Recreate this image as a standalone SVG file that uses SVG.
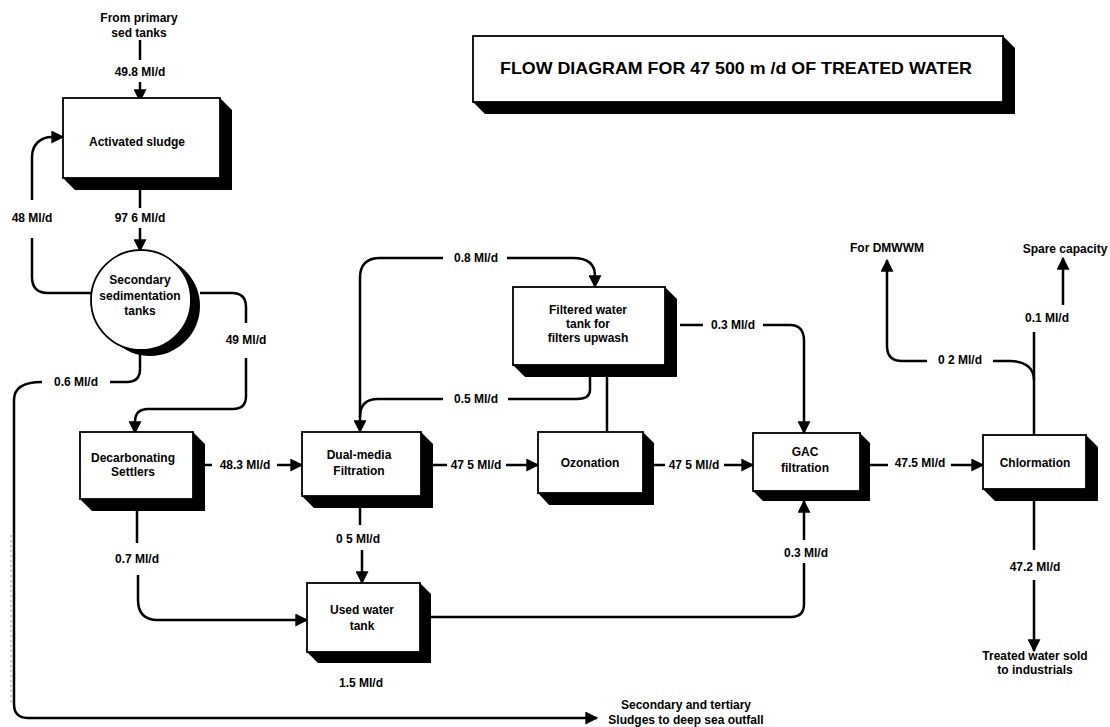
<svg xmlns="http://www.w3.org/2000/svg" width="1110" height="727" viewBox="0 0 1110 727">
<defs>
<style>
text{font-family:"Liberation Sans",Arial,sans-serif;font-weight:bold;font-size:12px;fill:#000;text-anchor:middle}
.title{font-size:17px}
.c{fill:none;stroke:#000;stroke-width:2.5}
.box{fill:#fff;stroke:#000;stroke-width:1.8}
.sh{fill:#000}
</style>
<marker id="ah" viewBox="0 0 10 10" refX="9" refY="5" markerWidth="15" markerHeight="13" markerUnits="userSpaceOnUse" orient="auto"><path d="M0,0 L10,5 L0,10 z"/></marker>
</defs>
<rect width="1110" height="727" fill="#fff"/>

<g id="title">
<polygon class="sh" points="1003,36 1015,48 1015,114 485,114 473,102 1003,102"/>
<rect class="box" x="473" y="36" width="530" height="66"/>
<text class="title" x="736" y="74" textLength="472" lengthAdjust="spacingAndGlyphs">FLOW DIAGRAM FOR 47 500 m /d OF TREATED WATER</text>
</g>

<g id="connectors">
<path class="c" d="M140,40 V60"/>
<path class="c" d="M140,82 V101" marker-end="url(#ah)"/>
<path class="c" d="M140,190 V208"/>
<path class="c" d="M140,228 V251" marker-end="url(#ah)"/>
<path class="c" d="M32,200 V157 C32,145 40,137 52,137 H63" marker-end="url(#ah)"/>
<path class="c" d="M32,238 V277 Q32,293 48,293 H91"/>
<path class="c" d="M200,293 H232 Q246,293 246,307 V323"/>
<path class="c" d="M246,358 V396 Q246,409 233,409 H148 Q135,409 135,422 V433" marker-end="url(#ah)"/>
<path class="c" d="M140,351 V369 Q140,382 127,382 H110"/>
<path class="c" d="M42,382 Q14,382 14,400 V704 Q14,718 28,718 H597" marker-end="url(#ah)"/>
<path class="c" d="M204,465 H212"/>
<path class="c" d="M277,465 H302" marker-end="url(#ah)"/>
<path class="c" d="M433,465 H447"/>
<path class="c" d="M506,465 H538" marker-end="url(#ah)"/>
<path class="c" d="M654,465 H665"/>
<path class="c" d="M724,465 H753" marker-end="url(#ah)"/>
<path class="c" d="M870,465 H888"/>
<path class="c" d="M951,465 H983" marker-end="url(#ah)"/>
<path class="c" d="M137,511 V543"/>
<path class="c" d="M138,575 V600 Q138,620 158,620 H307" marker-end="url(#ah)"/>
<path class="c" d="M360,508 V525"/>
<path class="c" d="M362,550 V583" marker-end="url(#ah)"/>
<path class="c" d="M431,617 H791 Q804,617 804,604 V563"/>
<path class="c" d="M804,540 V501" marker-end="url(#ah)"/>
<path class="c" d="M443,258 H380 Q360,258 360,278 V432" marker-end="url(#ah)"/>
<path class="c" d="M507,258 H573 Q595,258 595,276 V287" marker-end="url(#ah)"/>
<path class="c" d="M590,377 V390 Q590,399 577,399 H508"/>
<path class="c" d="M443,399 H378 Q360,399 360,417"/>
<path class="c" d="M607,377 V432"/>
<path class="c" d="M680,325 H703"/>
<path class="c" d="M763,325 H790 Q804,325 804,341 V433" marker-end="url(#ah)"/>
<path class="c" d="M1034,435 V332"/>
<path class="c" d="M993,361 H1010 C1025,361 1034,368 1034,380"/>
<path class="c" d="M927,361 H902 Q887,361 887,346 V260" marker-end="url(#ah)"/>
<path class="c" d="M1063,305 V258" marker-end="url(#ah)"/>
<path class="c" d="M1034,500 V550"/>
<path class="c" d="M1034,580 V651" marker-end="url(#ah)"/>
<path d="M11,535 V705" fill="none" stroke="#999" stroke-width="1" stroke-dasharray="2,3"/>
</g>

<g id="activated-sludge">
<polygon class="sh" points="220,98 232,110 232,190 75,190 63,178 220,178"/>
<rect class="box" x="63" y="98" width="157" height="80"/>
<text x="137" y="146">Activated sludge</text>
</g>

<g id="secondary-sedimentation">
<circle cx="150" cy="306" r="50" class="sh"/>
<circle cx="141" cy="300" r="50" fill="#fff" stroke="#000" stroke-width="1.8"/>
<text x="140" y="284">Secondary</text>
<text x="140" y="300">sedimentation</text>
<text x="140" y="315">tanks</text>
</g>

<g id="decarbonating-settlers">
<polygon class="sh" points="193,432 205,444 205,511 92,511 80,499 193,499"/>
<rect class="box" x="80" y="432" width="113" height="67"/>
<text x="133" y="462">Decarbonating</text>
<text x="133" y="476">Settlers</text>
</g>

<g id="dual-media">
<polygon class="sh" points="421,432 433,444 433,508 314,508 302,496 421,496"/>
<rect class="box" x="302" y="432" width="119" height="64"/>
<text x="359" y="459">Dual-media</text>
<text x="359" y="475">Filtration</text>
</g>

<g id="used-water-tank">
<polygon class="sh" points="420,583 431,594 431,663 318,663 307,652 420,652"/>
<rect class="box" x="307" y="583" width="113" height="69"/>
<text x="362" y="614">Used water</text>
<text x="362" y="630">tank</text>
</g>

<g id="filtered-water-tank">
<polygon class="sh" points="665,287 677,299 677,377 525,377 513,365 665,365"/>
<rect class="box" x="513" y="287" width="152" height="78"/>
<text x="588" y="314">Filtered water</text>
<text x="588" y="328">tank for</text>
<text x="588" y="342">filters upwash</text>
</g>

<g id="ozonation">
<polygon class="sh" points="643,432 654,443 654,505 549,505 538,493 643,493"/>
<rect class="box" x="538" y="432" width="105" height="61"/>
<text x="590" y="467">Ozonation</text>
</g>

<g id="gac-filtration">
<polygon class="sh" points="860,433 870,443 870,501 763,501 753,491 860,491"/>
<rect class="box" x="753" y="433" width="107" height="58"/>
<text x="805" y="456">GAC</text>
<text x="805" y="472">filtration</text>
</g>

<g id="chlorination">
<polygon class="sh" points="1086,435 1098,447 1098,501 995,501 983,489 1086,489"/>
<rect class="box" x="983" y="435" width="103" height="54"/>
<text x="1035" y="467">Chlormation</text>
</g>

<g id="labels">
<text x="139" y="22">From primary</text>
<text x="139" y="37">sed  tanks</text>
<text x="140" y="76">49.8 Ml/d</text>
<text x="32" y="222">48 Ml/d</text>
<text x="140" y="222">97 6 Ml/d</text>
<text x="246" y="344">49 Ml/d</text>
<text x="76" y="386">0.6 Ml/d</text>
<text x="245" y="469">48.3 Ml/d</text>
<text x="476" y="469">47 5 Ml/d</text>
<text x="694" y="469">47 5 Ml/d</text>
<text x="920" y="467">47.5 Ml/d</text>
<text x="358" y="543">0 5 Ml/d</text>
<text x="137" y="563">0.7 Ml/d</text>
<text x="361" y="687">1.5 Ml/d</text>
<text x="806" y="557">0.3 Ml/d</text>
<text x="1035" y="571">47.2 Ml/d</text>
<text x="1035" y="660">Treated water sold</text>
<text x="1035" y="674">to industrials</text>
<text x="686" y="709">Secondary and tertiary</text>
<text x="686" y="724">Sludges to deep sea outfall</text>
<text x="476" y="262">0.8 Ml/d</text>
<text x="476" y="403">0.5 Ml/d</text>
<text x="733" y="329">0.3 Ml/d</text>
<text x="887" y="252">For DMWWM</text>
<text x="1065" y="253">Spare capacity</text>
<text x="960" y="364">0 2 Ml/d</text>
<text x="1047" y="322">0.1 Ml/d</text>
</g>
</svg>
